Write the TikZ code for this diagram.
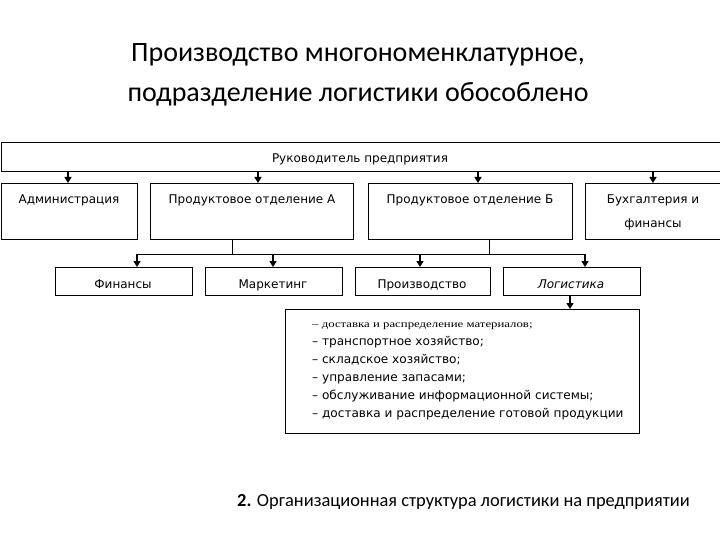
\documentclass[tikz,border=0pt]{standalone}
\usepackage{fontspec}
\setmainfont{DejaVu Sans}
\newfontfamily\titlefont{Carlito}
\newfontfamily\serfont{Liberation Serif}
\usetikzlibrary{arrows.meta}
\tikzset{
  box/.style={draw=black, line width=1.3pt, inner sep=0pt, anchor=north west},
  lbl/.style={inner sep=0pt, anchor=base, font=\fontsize{12}{14}\selectfont},
  arr/.style={line width=1.4pt, -{Triangle[length=6pt,width=7pt]}},
  ln/.style={line width=1pt},
  item/.style={inner sep=0pt, anchor=base west, font=\fontsize{12.1}{14}\selectfont},
  ttl/.style={inner sep=0pt, anchor=base, font=\titlefont\fontsize{28}{32}\selectfont},
}
\begin{document}
\begin{tikzpicture}[x=1pt,y=-1pt]
\useasboundingbox (0,0) rectangle (720,540);
\fill[white] (0,0) rectangle (720,540);
\clip (0,0) rectangle (720,540);
% title
\node[ttl] (t1) at (358,62) {Производство многономенклатурное,};
\node[ttl] (t2) at (358,102) {подразделение логистики обособлено};
% top box
\node[box, minimum width=725, minimum height=29] (top) at (1,142) {};
\node[lbl] (topT) at (360,163) {Руководитель предприятия};
% row 2
\node[box, minimum width=136, minimum height=56] (adm) at (1,183) {};
\node[lbl] (admT) at (69,204) {Администрация};
\node[box, minimum width=203, minimum height=56] (pa) at (150,183) {};
\node[lbl] (paT) at (252,204) {Продуктовое отделение А};
\node[box, minimum width=204, minimum height=56] (pb) at (368,183) {};
\node[lbl] (pbT) at (470,204) {Продуктовое отделение Б};
\node[box, minimum width=140, minimum height=56] (bux) at (585,183) {};
\node[lbl] (buxT1) at (653,204) {Бухгалтерия и};
\node[lbl] (buxT2) at (653,227) {финансы};
% arrows top -> row 2
\foreach \nm/\xx in {adm/68, pa/258, pb/478, bux/653} {
  \coordinate (c\nm) at (\xx,0);
  \draw[arr] (top.south -| c\nm) -- (\nm.north -| c\nm);
}
% row 3
\node[box, minimum width=137, minimum height=28] (fin) at (55,267) {};
\node[lbl] (finT) at (123,288) {Финансы};
\node[box, minimum width=137, minimum height=28] (mar) at (205,267) {};
\node[lbl] (marT) at (273,288) {Маркетинг};
\node[box, minimum width=135, minimum height=28] (pro) at (355,267) {};
\node[lbl] (proT) at (422,288) {Производство};
\node[box, minimum width=137, minimum height=28] (log) at (503,267) {};
\node[lbl, font=\fontsize{12}{14}\selectfont\itshape] (logT) at (571,288) {Логистика};
% bus
\coordinate (bus) at (0,254);
\coordinate (xa) at (232,0);
\coordinate (xb) at (489,0);
\coordinate (bl) at (137,254);
\coordinate (br) at (585,254);
\draw[ln] (pa.south -| xa) -- (bus -| xa);
\draw[ln] (pb.south -| xb) -- (bus -| xb);
\draw[ln] (bl) -- (br);
\foreach \nm/\xx in {fin/137, mar/273, pro/420, log/585} {
  \coordinate (d\nm) at (\xx,0);
  \draw[arr] (bus -| d\nm) -- (\nm.north -| d\nm);
}
% list box
\node[box, line width=1pt, minimum width=354, minimum height=124] (lst) at (285,309) {};
\coordinate (xl) at (570,0);
\draw[arr] (log.south -| xl) -- (lst.north -| xl);
\node[item, font=\serfont\fontsize{10}{11}\selectfont] (l1) at (312,327) {\scalebox{1.28}[1]{– доставка и распределение материалов;}};
\node[item] (l2) at (312,345) {– транспортное хозяйство;};
\node[item] (l3) at (312,363) {– складское хозяйство;};
\node[item] (l4) at (312,381) {– управление запасами;};
\node[item] (l5) at (312,399) {– обслуживание информационной системы;};
\node[item] (l6) at (312,417) {– доставка и распределение готовой продукции};
% caption
\node[inner sep=0pt, anchor=base west, font=\titlefont\fontsize{18.4}{21}\selectfont] (cap) at (237,506) {\textbf{2.} Организационная структура логистики на предприятии};
\end{tikzpicture}
\end{document}
